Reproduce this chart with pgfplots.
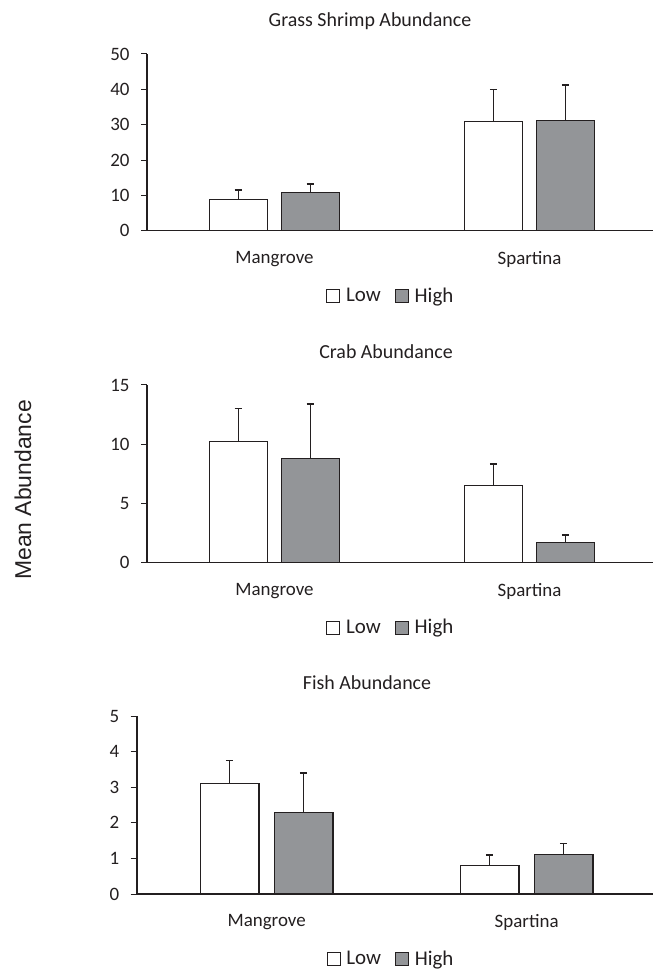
\documentclass[border=0pt]{standalone}
\usepackage{fontspec}
\setmainfont{Carlito}
\newfontfamily\arialf{Liberation Sans}
\usepackage{pgfplots}
\pgfplotsset{compat=1.18}
\definecolor{barGray}{RGB}{147,149,152}
\definecolor{lineC}{RGB}{35,31,32}
\definecolor{txt}{RGB}{35,31,32}
\pgfplotsset{
  panel/.style={
    scale only axis,
    axis x line=bottom, axis y line=left,
    axis line style={lineC, line width=1.6bp, -},
    x axis line style={-}, y axis line style={-},
    ybar, bar width=58bp,
    xtick={0,1}, xticklabels={Mangrove,Spartina},
    xmin=-0.5, ymin=0,
    enlargelimits=false,
    tick align=outside, major tick length=6bp,
    major x tick style={draw=none},
    y tick style={lineC, line width=1bp},
    tick label style={font=\fontsize{19}{22}\selectfont, text=txt},
    xticklabel style={yshift=-11bp},
    yticklabel style={xshift=-8bp},
    /pgf/number format/assume math mode=true,
    legend style={draw=none, fill=none, font=\fontsize{21}{24}\selectfont, text=txt,
      legend columns=2, anchor=center,
      /tikz/every odd column/.append style={column sep=4bp},
      /tikz/every even column/.append style={column sep=12bp}},
    legend cell align=left,
    clip=false,
  },
  sqleg/.style={legend image code/.code={\draw[##1, line width=0.8bp] (0bp,-6.5bp) rectangle (13bp,6.5bp);}},
  errs/.style={error bars/y dir=plus, error bars/y explicit,
      error bars/error bar style={lineC, line width=1.6bp},
      error bars/error mark options={rotate=90, lineC, line width=1.6bp, mark size=3.8bp}},
  lowbar/.style={draw=lineC, fill=white, line width=1.2bp, sqleg, errs},
  highbar/.style={draw=lineC, fill=barGray, line width=1.2bp, sqleg, errs},
}
\begin{document}
\begin{tikzpicture}
\path[use as bounding box] (0,0) rectangle (653bp,970bp);
% Panel 1
\begin{axis}[panel, at={(147bp,739.3bp)}, anchor=south west,
  width=506bp, height=176.7bp, xmax=1.484, ymax=50, ytick={0,10,...,50},
  legend style={at={(0.482,-0.368)}}]
\addplot[lowbar, bar shift=-36bp] coordinates {(0,8.9) +- (0,2.6) (1,30.9) +- (0,9.0)};
\addplot[highbar, bar shift=36bp] coordinates {(0,10.7) +- (0,2.5) (1,31.1) +- (0,10.1)};
\legend{Low,High}
\end{axis}
% Panel 2
\begin{axis}[panel, at={(147bp,407.5bp)}, anchor=south west,
  width=506bp, height=177.5bp, xmax=1.484, ymax=15, ytick={0,5,10,15},
  legend style={at={(0.482,-0.366)}}]
\addplot[lowbar, bar shift=-36bp] coordinates {(0,10.2) +- (0,2.8) (1,6.5) +- (0,1.8)};
\addplot[highbar, bar shift=36bp] coordinates {(0,8.8) +- (0,4.6) (1,1.7) +- (0,0.6)};
\legend{Low,High}
\end{axis}
% Panel 3
\begin{axis}[panel, at={(136.7bp,76bp)}, anchor=south west,
  width=516.3bp, height=178bp, xmax=1.486, ymax=5, ytick={0,1,...,5},
  bar width=58.5bp,
  legend style={at={(0.4925,-0.365)}}]
\addplot[lowbar, bar shift=-37bp] coordinates {(0,3.1) +- (0,0.65) (1,0.79) +- (0,0.3)};
\addplot[highbar, bar shift=37bp] coordinates {(0,2.3) +- (0,1.1) (1,1.1) +- (0,0.32)};
\legend{Low,High}
\end{axis}
% titles and shared label
\node[anchor=base, font=\fontsize{20}{24}\selectfont, text=txt] at (370bp,943.3bp) {Grass Shrimp Abundance};
\node[anchor=base, font=\fontsize{20}{24}\selectfont, text=txt] at (386bp,611.7bp) {Crab Abundance};
\node[anchor=base, font=\fontsize{20}{24}\selectfont, text=txt] at (367bp,280.7bp) {Fish Abundance};
\node[rotate=90, font=\arialf\fontsize{23}{27}\selectfont, text=txt] at (23bp,480bp) {Mean Abundance};
\end{tikzpicture}
\end{document}
